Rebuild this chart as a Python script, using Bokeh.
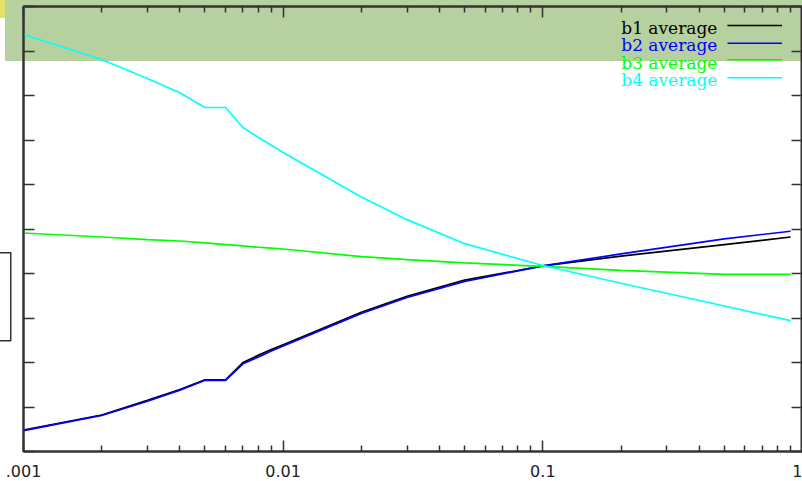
from bokeh.plotting import figure
from bokeh.models import (LogAxis, LinearAxis, FixedTicker, PrintfTickFormatter,
                          Label, Arrow, Range1d)
from bokeh.embed import file_html
from bokeh.resources import INLINE

# ---- data ----
x_vals = [0.001, 0.002, 0.003, 0.004, 0.005, 0.006, 0.007, 0.008, 0.009,
          0.01, 0.02, 0.03, 0.05, 0.1, 0.2, 0.5, 0.9]
b1_avg = [0.48, 0.82, 1.15, 1.39, 1.61, 1.61, 2.00, 2.16, 2.29,
          2.40, 3.13, 3.49, 3.85, 4.17, 4.39, 4.65, 4.82]
b2_avg = [0.47, 0.81, 1.13, 1.38, 1.60, 1.60, 1.97, 2.12, 2.26,
          2.37, 3.10, 3.46, 3.82, 4.17, 4.44, 4.78, 4.95]
b3_avg = [4.91, 4.82, 4.76, 4.73, 4.69, 4.65, 4.62, 4.59, 4.57,
          4.55, 4.38, 4.31, 4.24, 4.16, 4.07, 3.98, 3.98]
b4_avg = [9.37, 8.81, 8.38, 8.06, 7.73, 7.73, 7.28, 7.06, 6.88,
          6.72, 5.72, 5.21, 4.67, 4.18, 3.78, 3.27, 2.94]

series_names = ["b1 average", "b2 average", "b3 average", "b4 average"]
series_vals = [b1_avg, b2_avg, b3_avg, b4_avg]
series_colors = ["#000000", "#0000ff", "#00ff00", "#00ffff"]

x_major = [0.001, 0.01, 0.1, 1]
x_minor = [m * d for d in [0.001, 0.01, 0.1] for m in range(2, 10)]
y_major = list(range(0, 11))

AX = "#333333"

p = figure(width=802, height=481, x_axis_type="log",
           x_range=Range1d(0.001, 1), y_range=Range1d(0, 10),
           output_backend="svg", toolbar_location=None,
           min_border_left=23, min_border_top=6, min_border_bottom=30,
           min_border_right=0)
# transparent canvas; page-level decorations painted behind it with CSS
p.background_fill_alpha = 0
p.border_fill_alpha = 0
p.styles = {
    "background": (
        "linear-gradient(#333,#333) 0px 252px / 11px 1.5px no-repeat,"
        "linear-gradient(#333,#333) 0px 340px / 11px 1.5px no-repeat,"
        "linear-gradient(#333,#333) 10px 252px / 1.5px 89px no-repeat,"
        "linear-gradient(#e6e16a,#e6e16a) 0px 0px / 5px 18px no-repeat,"
        "linear-gradient(#b6d19f,#b6d19f) 5px 0px / 797px 61px no-repeat,"
        "#ffffff"
    )
}
p.outline_line_color = AX
p.outline_line_width = 2
p.xgrid.visible = False
p.ygrid.visible = False


def style_axis(ax, labels):
    ax.axis_line_color = AX
    ax.axis_line_width = 2
    ax.major_tick_line_color = AX
    ax.minor_tick_line_color = AX
    ax.major_tick_line_width = 1.5
    ax.minor_tick_line_width = 1.5
    ax.major_tick_in = 11
    ax.major_tick_out = 0
    ax.minor_tick_in = 6
    ax.minor_tick_out = 0
    if labels:
        ax.major_label_text_font = "DejaVu Sans"
        ax.major_label_text_font_size = "16px"
        ax.major_label_text_color = "#222222"
        ax.major_label_standoff = 13
    else:
        ax.major_label_text_font_size = "1px"
        ax.major_label_text_alpha = 0
        ax.major_label_standoff = 0


xb = p.xaxis[0]
xb.ticker = FixedTicker(ticks=x_major, minor_ticks=x_minor)
xb.formatter = PrintfTickFormatter(format="%g")
xb.major_label_overrides = {0.001: ".001"}
style_axis(xb, True)

yl = p.yaxis[0]
yl.ticker = FixedTicker(ticks=y_major, minor_ticks=[])
style_axis(yl, False)

xt = LogAxis(ticker=FixedTicker(ticks=x_major, minor_ticks=x_minor))
style_axis(xt, False)
p.add_layout(xt, "above")

yr = LinearAxis(ticker=FixedTicker(ticks=y_major, minor_ticks=[]))
style_axis(yr, False)
p.add_layout(yr, "right")

for vals, col in zip(series_vals, series_colors):
    p.line(x_vals, vals, line_color=col, line_width=1.7)

# legend (text left, sample line right, like the original)
line_y = [9.573, 9.175, 8.802, 8.398]
text_y = [9.52, 9.13, 8.735, 8.34]
for name, col, ly, ty in zip(series_names, series_colors, line_y, text_y):
    p.add_layout(Label(x=0.47, y=ty, text=name, text_color=col,
                       text_font="DejaVu Serif", text_font_size="17px",
                       text_align="right", text_baseline="alphabetic"))
    p.add_layout(Arrow(x_start=0.514, y_start=ly, x_end=0.834, y_end=ly,
                       start=None, end=None, line_color=col, line_width=1.6))

open("out.html", "w").write(file_html(p, INLINE))
